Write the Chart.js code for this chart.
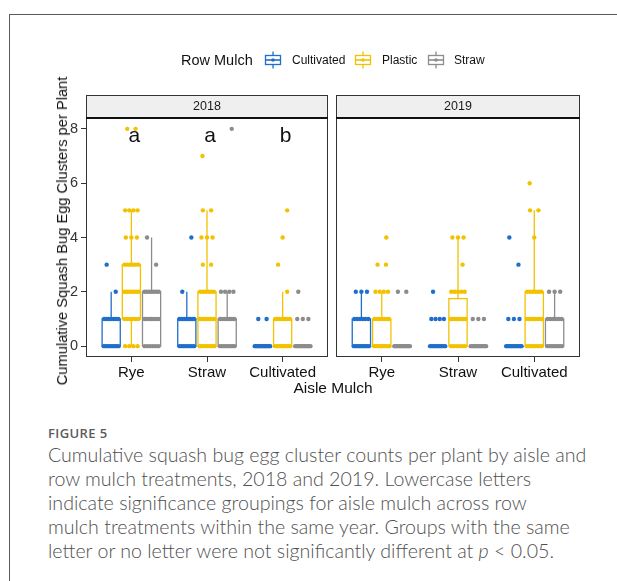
<!DOCTYPE html>
<html>
<head>
<meta charset="utf-8">
<script src="https://cdn.jsdelivr.net/npm/chart.js@4.4.1/dist/chart.umd.min.js"></script>
<style>
  html, body { margin: 0; padding: 0; background: #fff; }
  #page { position: relative; width: 617px; height: 581px; overflow: hidden; background: #fff;
          font-family: "Liberation Sans", Arial, sans-serif; color: #111; }
  #frame { position: absolute; left: 9px; top: 14px; width: 620px; height: 600px;
           border-top: 1.5px solid #5a5a5a; border-left: 1.5px solid #5a5a5a; }
  canvas { position: absolute; top: 0; }
  #c2018 { left: 0; }
  #c2019 { left: 332px; }
  .abs { position: absolute; white-space: nowrap; }
  .legtitle { font-size: 14.5px; left: 181px; top: 52px; line-height: 16px; }
  .leglab { font-size: 12px; top: 53px; line-height: 14px; }
  .legkey { position: absolute; top: 51px; }
  #ytitle { left: 62px; top: 231px; font-size: 14.7px; transform: translate(-50%, -50%) rotate(-90deg); }
  #xtitle { left: 333px; top: 388px; font-size: 15.5px; transform: translate(-50%, -50%); }
  #fig { left: 48px; top: 426px; font-family: "Open Sans", sans-serif; font-size: 13px; font-weight: 600;
         color: #5c5c5c; letter-spacing: 0.4px; line-height: 14px; }
  #caption { left: 48px; top: 443px; font-family: Lato, sans-serif; font-weight: 300; font-size: 19.6px;
             line-height: 24px; color: #505050; }
</style>
</head>
<body>
<div id="page">
  <div id="frame"></div>
  <canvas id="c2018" width="332" height="400"></canvas>
  <canvas id="c2019" width="285" height="400"></canvas>
  <div id="legend"></div>
  <div id="ytitle" class="abs">Cumulative Squash Bug Egg Clusters per Plant</div>
  <div id="xtitle" class="abs">Aisle Mulch</div>
  <div id="fig" class="abs">FIGURE 5</div>
  <div id="caption" class="abs">Cumulative squash bug egg cluster counts per plant by aisle and<br>row mulch treatments, 2018 and 2019. Lowercase letters<br>indicate significance groupings for aisle mulch across row<br>mulch treatments within the same year. Groups with the same<br>letter or no letter were not significantly different at <i>p</i> &lt; 0.05.</div>
</div>
<script>
// ---- data ----
const aisleMulch = ['Rye', 'Straw', 'Cultivated'];
const rowMulch = ['Cultivated', 'Plastic', 'Straw'];
const years = ['2018', '2019'];
const yTicks = [0, 2, 4, 6, 8];
const xTicks = [1, 2, 3];
const sigLetters2018 = ['a', 'a', 'b'];
const sigLetters2019 = ['', '', ''];

// box summaries per aisle mulch: [lower whisker, Q1, median, Q3, upper whisker]
const box2018Cultivated = [[0, 0, 0, 1, 2], [0, 0, 0, 1, 2], [0, 0, 0, 0, 0]];
const box2018Plastic    = [[0, 1, 2, 3, 5], [0, 0, 1, 2, 5], [0, 0, 0, 1, 2]];
const box2018Straw      = [[0, 0, 1, 2, 4], [0, 0, 1, 1, 2], [0, 0, 0, 0, 0]];
const box2019Cultivated = [[0, 0, 0, 1, 2], [0, 0, 0, 0, 0], [0, 0, 0, 0, 0]];
const box2019Plastic    = [[0, 0, 0, 1, 2], [0, 0, 1, 1.75, 4], [0, 0, 1, 2, 5]];
const box2019Straw      = [[0, 0, 0, 0, 0], [0, 0, 0, 0, 0], [0, 0, 0, 1, 2]];

// egg cluster counts per plant, per aisle mulch (Rye, Straw, Cultivated)
const counts2018Cultivated = [
  [0,0,0,0,0,0,0,0,0,1,1,1,1,1,1,1,2,3],
  [0,0,0,0,0,0,0,0,1,1,1,1,1,1,1,1,1,2,4],
  [0,0,0,0,0,0,0,0,0,0,0,0,0,0,1,1]
];
const counts2018Plastic = [
  [0,0,0,0,1,1,1,1,1,1,2,2,2,2,2,2,2,3,3,3,3,3,3,4,4,4,5,5,5,5,8,8],
  [0,0,0,0,0,0,0,0,1,1,1,1,1,1,1,1,1,2,2,2,2,2,2,3,3,4,4,4,5,5,7],
  [0,0,0,0,0,0,0,0,0,0,1,1,1,1,1,1,1,1,2,3,4,5]
];
const counts2018Straw = [
  [0,0,0,0,0,0,1,1,1,1,1,1,1,2,2,2,2,2,2,2,3,4],
  [0,0,0,0,0,0,0,0,1,1,1,1,1,1,1,2,2,2,2,8],
  [0,0,0,0,0,0,0,0,0,0,0,0,1,1,1,2]
];
const counts2019Cultivated = [
  [0,0,0,0,0,0,0,0,0,0,1,1,1,1,1,1,2,2,2],
  [0,0,0,0,0,0,0,0,0,0,1,1,1,1,2],
  [0,0,0,0,0,0,0,0,0,0,0,0,1,1,1,3,4]
];
const counts2019Plastic = [
  [0,0,0,0,0,0,0,0,0,0,1,1,1,1,1,1,1,2,2,2,2,3,3,4],
  [0,0,0,0,0,0,1,1,1,1,1,1,1,1,2,2,2,2,2,3,4,4,4],
  [0,0,0,0,0,0,0,0,1,1,1,1,1,1,1,1,2,2,2,2,2,2,4,5,5,6]
];
const counts2019Straw = [
  [0,0,0,0,0,0,0,0,0,0,0,0,0,0,2,2],
  [0,0,0,0,0,0,0,0,0,0,0,0,1,1,1],
  [0,0,0,0,0,0,0,0,1,1,1,1,1,1,2,2,2]
];

// ---- styling ----
const rowColors = ['#1f6fca', '#f2c200', '#8c8c8c'];
const dodge = [-0.267, 0, 0.267];   // offsets of the three row-mulch boxes
const boxHalf = 0.12;
const jitterHalf = 0.11;
const FONT = '"Liberation Sans", Arial, sans-serif';

// spread repeated values evenly across the box width
function jitterPoints(lists, r) {
  const pts = [];
  lists.forEach((vals, i) => {
    const groups = {};
    vals.forEach(v => { (groups[v] = groups[v] || []).push(v); });
    Object.keys(groups).forEach(k => {
      const g = groups[k], n = g.length;
      g.forEach((v, j) => {
        const off = n === 1 ? ((i + r + Number(k)) % 3 - 1) * 0.06
                            : -jitterHalf + 2 * jitterHalf * (j + 0.5) / n;
        pts.push({ x: xTicks[i] + dodge[r] + off, y: v });
      });
    });
  });
  return pts;
}

const panelDecor = {
  id: 'panelDecor',
  beforeDatasetsDraw(chart, args, opts) {
    const { ctx, scales: { x, y } } = chart;
    ctx.save();
    opts.boxes.forEach((rows, r) => {
      rows.forEach((s, i) => {
        const cx = xTicks[i] + dodge[r];
        const xl = x.getPixelForValue(cx - boxHalf);
        const xr = x.getPixelForValue(cx + boxHalf);
        const xc = x.getPixelForValue(cx);
        const [lo, q1, md, q3, hi] = s.map(v => y.getPixelForValue(v));
        ctx.strokeStyle = rowColors[r];
        ctx.lineWidth = 1.3;
        ctx.beginPath();
        ctx.moveTo(xc, lo); ctx.lineTo(xc, q1);
        ctx.moveTo(xc, q3); ctx.lineTo(xc, hi);
        ctx.stroke();
        ctx.fillStyle = '#fff';
        ctx.fillRect(xl, q3, xr - xl, q1 - q3);
        ctx.strokeRect(xl, q3, xr - xl, q1 - q3);
        ctx.lineWidth = 2.2;
        ctx.beginPath();
        ctx.moveTo(xl, md); ctx.lineTo(xr, md);
        ctx.stroke();
      });
    });
    ctx.restore();
  },
  afterDraw(chart, args, opts) {
    const { ctx, chartArea: a, scales: { x, y } } = chart;
    ctx.save();
    // significance letters
    ctx.fillStyle = '#111';
    ctx.font = '21px ' + FONT;
    ctx.textAlign = 'center';
    ctx.textBaseline = 'alphabetic';
    opts.letters.forEach((t, i) => {
      if (t) ctx.fillText(t, x.getPixelForValue(xTicks[i] + 0.04), y.getPixelForValue(7.5));
    });
    // panel border
    ctx.strokeStyle = '#333';
    ctx.lineWidth = 1;
    ctx.strokeRect(a.left + 0.5, a.top + 0.5, a.right - a.left - 1, a.bottom - a.top - 1);
    // strip
    const sTop = a.top - 23;
    ctx.fillStyle = '#efefef';
    ctx.fillRect(a.left, sTop, a.right - a.left, 23);
    ctx.strokeRect(a.left + 0.5, sTop + 0.5, a.right - a.left - 1, 23);
    ctx.lineWidth = 2;
    ctx.strokeStyle = '#111';
    ctx.beginPath();
    ctx.moveTo(a.left, a.top); ctx.lineTo(a.right, a.top);
    ctx.stroke();
    ctx.fillStyle = '#1a1a1a';
    ctx.font = '12.5px ' + FONT;
    ctx.textBaseline = 'middle';
    ctx.fillText(opts.year, (a.left + a.right) / 2, sTop + 12);
    ctx.restore();
  }
};

function makePanel(canvasId, year, boxes, counts, letters, showY, padding) {
  return new Chart(document.getElementById(canvasId), {
    type: 'scatter',
    data: {
      datasets: rowMulch.map((name, r) => ({
        label: name,
        data: jitterPoints(counts[r], r),
        backgroundColor: rowColors[r],
        borderWidth: 0,
        pointRadius: 2.2
      }))
    },
    options: {
      responsive: false,
      devicePixelRatio: 1,
      animation: false,
      events: [],
      layout: { padding },
      plugins: {
        legend: { display: false },
        tooltip: { enabled: false },
        panelDecor: { year, boxes, letters }
      },
      scales: {
        x: {
          type: 'linear', min: 0.4, max: 3.6,
          afterBuildTicks: s => { s.ticks = xTicks.map(v => ({ value: v })); },
          afterFit: s => { s.height = 30; },
          grid: { drawOnChartArea: false, drawTicks: true, tickLength: 5, color: '#333' },
          border: { display: false },
          ticks: { padding: 2, color: '#111', font: { family: FONT, size: 15 },
                   callback: v => aisleMulch[v - 1], maxRotation: 0, autoSkip: false }
        },
        y: {
          type: 'linear', min: -0.4, max: 8.4, display: showY,
          afterBuildTicks: s => { s.ticks = yTicks.map(v => ({ value: v })); },
          afterFit: s => { s.width = showY ? 30 : 0; },
          grid: { drawOnChartArea: false, drawTicks: true, tickLength: 5, color: '#333' },
          border: { display: false },
          ticks: { padding: 3, color: '#333', font: { family: FONT, size: 14.5 } }
        }
      }
    },
    plugins: [panelDecor]
  });
}

makePanel('c2018', years[0],
  [box2018Cultivated, box2018Plastic, box2018Straw],
  [counts2018Cultivated, counts2018Plastic, counts2018Straw],
  sigLetters2018, true, { left: 56, right: 4, top: 118, bottom: 13 });
makePanel('c2019', years[1],
  [box2019Cultivated, box2019Plastic, box2019Straw],
  [counts2019Cultivated, counts2019Plastic, counts2019Straw],
  sigLetters2019, false, { left: 4, right: 37, top: 118, bottom: 13 });

// legend: boxplot glyph keys
const legend = document.getElementById('legend');
const t = document.createElement('div');
t.className = 'abs legtitle';
t.textContent = 'Row Mulch';
legend.appendChild(t);
const keyX = [264, 354, 427];
const labX = [292, 382, 454];
rowMulch.forEach((name, r) => {
  const c = rowColors[r];
  const svg = document.createElementNS('http://www.w3.org/2000/svg', 'svg');
  svg.setAttribute('width', '18'); svg.setAttribute('height', '18');
  svg.setAttribute('class', 'legkey');
  svg.style.left = keyX[r] + 'px';
  svg.innerHTML =
    `<line x1="9" y1="0.5" x2="9" y2="4.5" stroke="${c}" stroke-width="1.3"/>` +
    `<line x1="9" y1="13.5" x2="9" y2="17.5" stroke="${c}" stroke-width="1.3"/>` +
    `<rect x="1.5" y="4.5" width="15" height="9" fill="#fff" stroke="${c}" stroke-width="1.3"/>` +
    `<line x1="1.5" y1="9" x2="16.5" y2="9" stroke="${c}" stroke-width="1.6"/>` +
    `<circle cx="9" cy="9" r="1.8" fill="${c}"/>`;
  legend.appendChild(svg);
  const lab = document.createElement('div');
  lab.className = 'abs leglab';
  lab.style.left = labX[r] + 'px';
  lab.textContent = name;
  legend.appendChild(lab);
});
</script>
</body>
</html>
